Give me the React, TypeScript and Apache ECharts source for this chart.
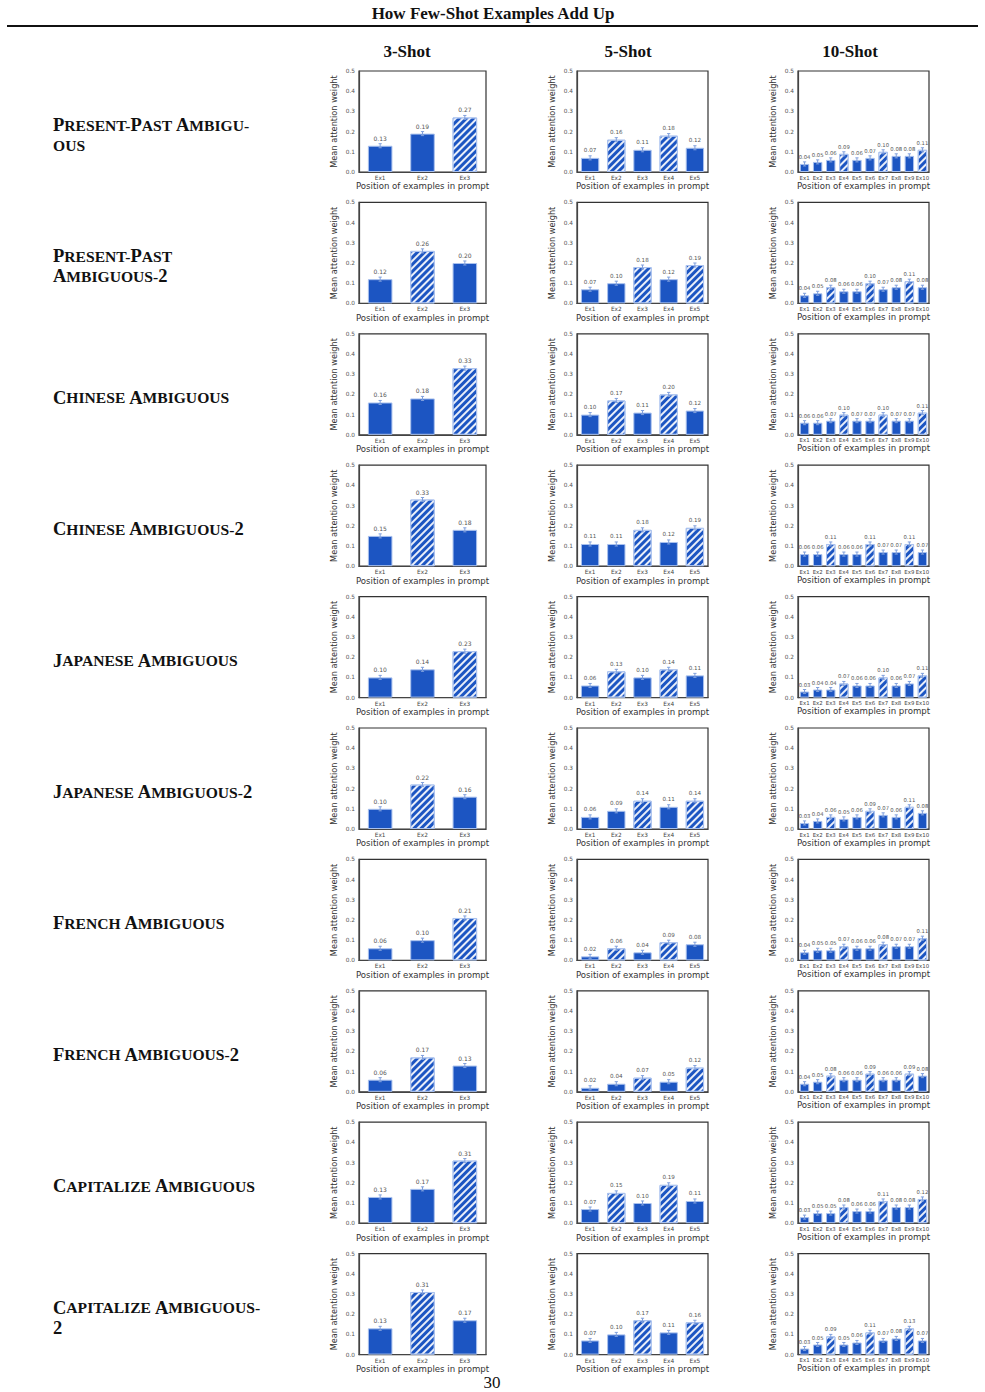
import React, { useEffect, useRef } from "react";
import * as echarts from "echarts";

// Task rows (left-hand labels)
const ROW_LABELS: string[] = [
  "Present-Past Ambigu-\nous",
  "Present-Past\nAmbiguous-2",
  "Chinese Ambiguous",
  "Chinese Ambiguous-2",
  "Japanese Ambiguous",
  "Japanese Ambiguous-2",
  "French Ambiguous",
  "French Ambiguous-2",
  "Capitalize Ambiguous",
  "Capitalize Ambiguous-\n2",
];

const COLUMN_TITLES: string[] = ["3-Shot", "5-Shot", "10-Shot"];

const CATS_3: string[] = ["Ex1", "Ex2", "Ex3"];
const CATS_5: string[] = ["Ex1", "Ex2", "Ex3", "Ex4", "Ex5"];
const CATS_10: string[] = ["Ex1", "Ex2", "Ex3", "Ex4", "Ex5", "Ex6", "Ex7", "Ex8", "Ex9", "Ex10"];

// Mean attention weight per example position
const SHOT_3: number[][] = [
  [0.13, 0.19, 0.27],
  [0.12, 0.26, 0.2],
  [0.16, 0.18, 0.33],
  [0.15, 0.33, 0.18],
  [0.1, 0.14, 0.23],
  [0.1, 0.22, 0.16],
  [0.06, 0.1, 0.21],
  [0.06, 0.17, 0.13],
  [0.13, 0.17, 0.31],
  [0.13, 0.31, 0.17],
];

const SHOT_5: number[][] = [
  [0.07, 0.16, 0.11, 0.18, 0.12],
  [0.07, 0.1, 0.18, 0.12, 0.19],
  [0.1, 0.17, 0.11, 0.2, 0.12],
  [0.11, 0.11, 0.18, 0.12, 0.19],
  [0.06, 0.13, 0.1, 0.14, 0.11],
  [0.06, 0.09, 0.14, 0.11, 0.14],
  [0.02, 0.06, 0.04, 0.09, 0.08],
  [0.02, 0.04, 0.07, 0.05, 0.12],
  [0.07, 0.15, 0.1, 0.19, 0.11],
  [0.07, 0.1, 0.17, 0.11, 0.16],
];

const SHOT_10: number[][] = [
  [0.04, 0.05, 0.06, 0.09, 0.06, 0.07, 0.1, 0.08, 0.08, 0.11],
  [0.04, 0.05, 0.08, 0.06, 0.06, 0.1, 0.07, 0.08, 0.11, 0.08],
  [0.06, 0.06, 0.07, 0.1, 0.07, 0.07, 0.1, 0.07, 0.07, 0.11],
  [0.06, 0.06, 0.11, 0.06, 0.06, 0.11, 0.07, 0.07, 0.11, 0.07],
  [0.03, 0.04, 0.04, 0.07, 0.06, 0.06, 0.1, 0.06, 0.07, 0.11],
  [0.03, 0.04, 0.06, 0.05, 0.06, 0.09, 0.07, 0.06, 0.11, 0.08],
  [0.04, 0.05, 0.05, 0.07, 0.06, 0.06, 0.08, 0.07, 0.07, 0.11],
  [0.04, 0.05, 0.08, 0.06, 0.06, 0.09, 0.06, 0.06, 0.09, 0.08],
  [0.03, 0.05, 0.05, 0.08, 0.06, 0.06, 0.11, 0.08, 0.08, 0.12],
  [0.03, 0.05, 0.09, 0.05, 0.06, 0.11, 0.07, 0.08, 0.13, 0.07],
];

// Indices of the hatched (ambiguous) examples in each row
const HATCH_3: number[][] = [[2], [1], [2], [1], [2], [1], [2], [1], [2], [1]];
const HATCH_5: number[][] = [
  [1, 3], [2, 4], [1, 3], [2, 4], [1, 3], [2, 4], [1, 3], [2, 4], [1, 3], [2, 4],
];
const HATCH_10: number[][] = [
  [3, 6, 9], [2, 5, 8], [3, 6, 9], [2, 5, 8], [3, 6, 9],
  [2, 5, 8], [3, 6, 9], [2, 5, 8], [3, 6, 9], [2, 5, 8],
];

// Half-width of the error bars
const ERR = 0.01;

const BAR_BLUE = "#1c55c2";
const BAR_EDGE = "#a9c1ee";
const ERR_COLOR = "#7f9fdc";
const SANS = "DejaVu Sans";
const SERIF = "Liberation Serif";

const COL_LEFT = [359, 577, 798];
const COL_WIDTH = [127, 131, 131];
const COL_TITLE_X = [407, 628, 850];
const ROW_TOP0 = 71;
const ROW_STEP = 131.4;
const PLOT_H = 101;

function smallCaps(s: string): string {
  let out = "";
  let buf = "";
  let mode: string | null = null;
  const flush = () => {
    if (buf && mode) out += `{${mode}|${buf}}`;
    buf = "";
  };
  for (const ch of s) {
    if (ch === "\n") {
      flush();
      out += "\n";
      mode = null;
      continue;
    }
    const m = /[A-Z0-9]/.test(ch) ? "b" : "s";
    if (m !== mode) {
      flush();
      mode = m;
    }
    buf += ch.toUpperCase();
  }
  flush();
  return out;
}

export default function App() {
  const ref = useRef<HTMLDivElement>(null);

  useEffect(() => {
    document.body.style.margin = "0";
    if (!ref.current) return;
    const chart = echarts.init(ref.current, undefined, { renderer: "svg" });

    const grids: any[] = [];
    const xAxes: any[] = [];
    const yAxes: any[] = [];
    const series: any[] = [];
    const graphics: any[] = [];

    const panels = [
      { cats: CATS_3, vals: SHOT_3, hatch: HATCH_3, barW: "58%", lab: 6 },
      { cats: CATS_5, vals: SHOT_5, hatch: HATCH_5, barW: "70%", lab: 5.6 },
      { cats: CATS_10, vals: SHOT_10, hatch: HATCH_10, barW: "72%", lab: 5.3 },
    ];

    const hatchDecal = {
      symbol: "rect",
      symbolSize: 1,
      dashArrayX: [1, 0],
      dashArrayY: [1.4, 3],
      rotation: -Math.PI / 4,
      color: "rgba(255,255,255,0.9)",
    };

    ROW_LABELS.forEach((label, r) => {
      const top = ROW_TOP0 + r * ROW_STEP;
      panels.forEach((p, c) => {
        const gi = grids.length;
        grids.push({
          left: COL_LEFT[c],
          top,
          width: COL_WIDTH[c],
          height: PLOT_H,
          show: true,
          borderColor: "#333",
          borderWidth: 1.2,
          backgroundColor: "#fff",
        });
        xAxes.push({
          type: "category",
          gridIndex: gi,
          data: p.cats,
          name: "Position of examples in prompt",
          nameLocation: "middle",
          nameGap: 9,
          nameTextStyle: { fontFamily: SANS, fontSize: 8.6, color: "#333" },
          axisLine: { show: true, lineStyle: { color: "#444", width: 1.2 } },
          axisTick: { show: false },
          axisLabel: {
            interval: 0,
            fontFamily: SANS,
            fontSize: c === 2 ? 5.4 : 5.8,
            color: "#444",
            margin: 3,
          },
        });
        yAxes.push({
          type: "value",
          gridIndex: gi,
          min: 0,
          max: 0.5,
          interval: 0.1,
          name: "Mean attention weight",
          nameLocation: "middle",
          nameGap: 21,
          nameTextStyle: { fontFamily: SANS, fontSize: 8.2, color: "#333" },
          axisLine: { show: true, lineStyle: { color: "#444", width: 1.2 } },
          axisTick: { show: false },
          splitLine: { show: false },
          axisLabel: {
            fontFamily: SANS,
            fontSize: 5.8,
            color: "#555",
            margin: 4,
            formatter: (v: number) => v.toFixed(1),
          },
        });
        const vals = p.vals[r];
        series.push({
          type: "bar",
          xAxisIndex: gi,
          yAxisIndex: gi,
          barWidth: p.barW,
          data: vals.map((v, i) => ({
            value: v,
            itemStyle: p.hatch[r].includes(i)
              ? { color: BAR_BLUE, borderColor: BAR_EDGE, borderWidth: 1, decal: hatchDecal }
              : { color: BAR_BLUE, borderColor: BAR_EDGE, borderWidth: 1 },
          })),
          label: {
            show: true,
            position: "top",
            distance: 4.5,
            fontFamily: SANS,
            fontSize: p.lab,
            color: "#555",
            formatter: (q: any) => Number(q.value).toFixed(2),
          },
        });
        series.push({
          type: "custom",
          xAxisIndex: gi,
          yAxisIndex: gi,
          data: vals.map((v, i) => [i, v]),
          z: 5,
          renderItem: (_params: any, api: any) => {
            const x = api.value(0);
            const v = api.value(1);
            const hi = api.coord([x, v + ERR]);
            const lo = api.coord([x, v - ERR]);
            const cap = 1.6;
            const st = { stroke: ERR_COLOR, lineWidth: 1 };
            return {
              type: "group",
              children: [
                { type: "line", shape: { x1: hi[0], y1: hi[1], x2: lo[0], y2: lo[1] }, style: st },
                { type: "line", shape: { x1: hi[0] - cap, y1: hi[1], x2: hi[0] + cap, y2: hi[1] }, style: st },
                { type: "line", shape: { x1: lo[0] - cap, y1: lo[1], x2: lo[0] + cap, y2: lo[1] }, style: st },
              ],
            };
          },
        });
      });

      graphics.push({
        type: "text",
        left: 53,
        top: top + 63 - (label.includes("\n") ? 10 : 0) - 9,
        style: {
          text: smallCaps(label),
          lineHeight: 20,
          rich: {
            b: { fontFamily: SERIF, fontWeight: "bold", fontSize: 18.5, fill: "#111", lineHeight: 20 },
            s: { fontFamily: SERIF, fontWeight: "bold", fontSize: 15.6, fill: "#111", lineHeight: 20 },
          },
        },
      });
    });

    graphics.push(
      {
        type: "text",
        x: 493,
        y: 13,
        style: {
          text: "How Few-Shot Examples Add Up",
          fontFamily: SERIF,
          fontWeight: "bold",
          fontSize: 17,
          fill: "#111",
          align: "center",
          verticalAlign: "middle",
        },
      },
      {
        type: "line",
        shape: { x1: 7, y1: 26, x2: 978, y2: 26 },
        style: { stroke: "#111", lineWidth: 2 },
      },
      {
        type: "text",
        x: 492,
        y: 1382,
        style: {
          text: "30",
          fontFamily: SERIF,
          fontSize: 17,
          fill: "#111",
          align: "center",
          verticalAlign: "middle",
        },
      }
    );
    COLUMN_TITLES.forEach((t, c) => {
      graphics.push({
        type: "text",
        x: COL_TITLE_X[c],
        y: 51,
        style: {
          text: t,
          fontFamily: SERIF,
          fontWeight: "bold",
          fontSize: 17,
          fill: "#111",
          align: "center",
          verticalAlign: "middle",
        },
      });
    });

    chart.setOption({
      animation: false,
      backgroundColor: "#fff",
      grid: grids,
      xAxis: xAxes,
      yAxis: yAxes,
      series,
      graphic: graphics,
    });

    return () => chart.dispose();
  }, []);

  return <div ref={ref} style={{ width: 985, height: 1392 }} />;
}
